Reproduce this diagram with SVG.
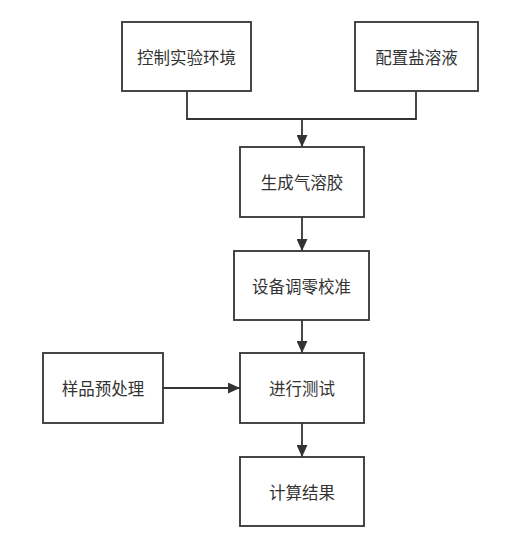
<svg xmlns="http://www.w3.org/2000/svg" width="519" height="545" viewBox="0 0 519 545">
<defs>
<marker id="arr" markerWidth="12" markerHeight="11" refX="12" refY="5.5" orient="auto" markerUnits="userSpaceOnUse">
<path d="M0,0 L12,5.5 L0,11 Z" fill="#333"/>
</marker>
<style>
.box{fill:#fff;stroke:#333;stroke-width:1.8;}
.lbl{font-family:"Noto Sans CJK SC","Noto Sans",sans-serif;font-size:16.5px;fill:#333;text-anchor:middle;dominant-baseline:central;}
.edge{fill:none;stroke:#333;stroke-width:1.8;}
</style>
</defs>
<rect width="519" height="545" fill="#fff"/>
<g id="connectors">
<path class="edge" d="M187,91 V119 H416 V91"/>
<path class="edge" d="M302,119 V147" marker-end="url(#arr)"/>
<path class="edge" d="M302,217 V251" marker-end="url(#arr)"/>
<path class="edge" d="M302,320 V353" marker-end="url(#arr)"/>
<path class="edge" d="M302,423 V457" marker-end="url(#arr)"/>
<path class="edge" d="M163,388 H240" marker-end="url(#arr)"/>
</g>
<g id="node-env"><rect class="box" x="122" y="22" width="129" height="69"/><text class="lbl" x="186.5" y="56.5">控制实验环境</text></g>
<g id="node-salt"><rect class="box" x="355" y="22" width="123" height="69"/><text class="lbl" x="416.5" y="56.5">配置盐溶液</text></g>
<g id="node-aerosol"><rect class="box" x="240" y="147" width="124" height="70"/><text class="lbl" x="302" y="182">生成气溶胶</text></g>
<g id="node-zero"><rect class="box" x="234" y="251" width="135" height="69"/><text class="lbl" x="301.5" y="285.5">设备调零校准</text></g>
<g id="node-pre"><rect class="box" x="43" y="353" width="120" height="70"/><text class="lbl" x="103" y="388">样品预处理</text></g>
<g id="node-test"><rect class="box" x="240" y="353" width="124" height="70"/><text class="lbl" x="302" y="388">进行测试</text></g>
<g id="node-calc"><rect class="box" x="240" y="457" width="124" height="69"/><text class="lbl" x="302" y="491.5">计算结果</text></g>
</svg>
